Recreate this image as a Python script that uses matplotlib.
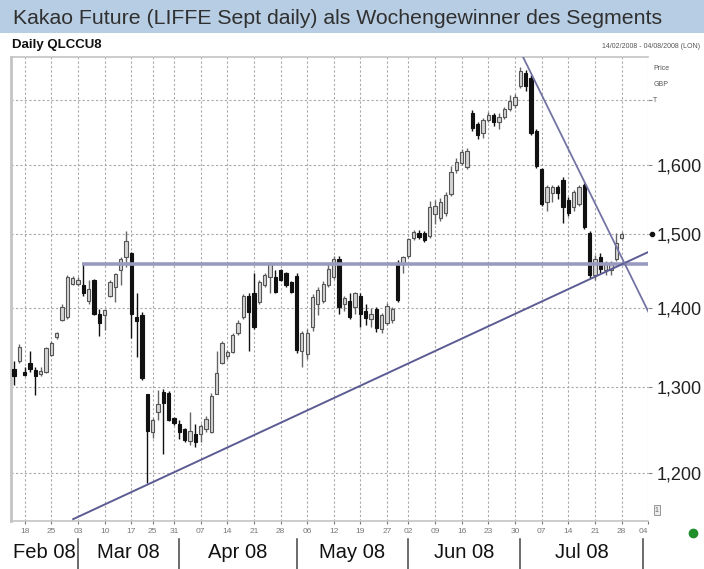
import matplotlib
matplotlib.use("Agg")
import matplotlib.pyplot as plt
import numpy as np
from matplotlib.patches import Rectangle
from matplotlib.ticker import NullLocator
from matplotlib.transforms import blended_transform_factory

# daily OHLC, trading day index 0 = 14 Feb 2008
opens = [1322, 1332, 1319, 1329, 1321, 1316, 1319, 1340, 1362, 1384,
         1388, 1432, 1432, 1430, 1409, 1437, 1392, 1390, 1416, 1427,
         1450, 1468, 1473, 1388, 1390, 1291, 1247, 1270, 1294, 1293,
         1263, 1256, 1250, 1236, 1244, 1244, 1250, 1246, 1292, 1330,
         1338, 1343, 1367, 1388, 1415, 1419, 1407, 1430, 1441, 1441,
         1450, 1446, 1434, 1442, 1345, 1341, 1375, 1405, 1409, 1430,
         1441, 1466, 1405, 1409, 1401, 1416, 1396, 1385, 1398, 1372,
         1380, 1384, 1460, 1459, 1470, 1494, 1502, 1501, 1497, 1528,
         1522, 1530, 1557, 1592, 1603, 1597, 1680, 1662, 1648, 1669,
         1676, 1666, 1673, 1686, 1692, 1722, 1744, 1735, 1652, 1594,
         1545, 1558, 1567, 1578, 1548, 1538, 1542, 1571, 1502, 1443,
         1468, 1450, 1450, 1466, 1495]
highs = [1332, 1353, 1325, 1344, 1325, 1325, 1350, 1357, 1369, 1405,
         1443, 1442, 1441, 1459, 1437, 1438, 1398, 1398, 1437, 1446,
         1468, 1504, 1475, 1420, 1395, 1291, 1263, 1296, 1298, 1295,
         1264, 1260, 1251, 1270, 1256, 1256, 1265, 1293, 1344, 1357,
         1346, 1367, 1384, 1418, 1420, 1446, 1437, 1446, 1461, 1450,
         1452, 1448, 1436, 1446, 1370, 1372, 1418, 1427, 1436, 1458,
         1470, 1470, 1416, 1419, 1421, 1419, 1405, 1400, 1401, 1393,
         1406, 1401, 1464, 1470, 1495, 1506, 1505, 1504, 1547, 1548,
         1552, 1560, 1598, 1610, 1624, 1625, 1685, 1666, 1672, 1681,
         1680, 1679, 1689, 1708, 1710, 1753, 1748, 1740, 1655, 1596,
         1570, 1570, 1571, 1582, 1553, 1563, 1571, 1574, 1504, 1471,
         1474, 1462, 1463, 1502, 1503]
lows = [1303, 1330, 1313, 1319, 1290, 1313, 1317, 1338, 1360, 1383,
        1386, 1430, 1429, 1416, 1405, 1390, 1363, 1371, 1414, 1407,
        1430, 1455, 1361, 1337, 1309, 1189, 1240, 1261, 1221, 1259,
        1255, 1238, 1235, 1231, 1229, 1235, 1246, 1245, 1291, 1328,
        1334, 1342, 1365, 1386, 1344, 1372, 1405, 1428, 1419, 1419,
        1435, 1428, 1419, 1342, 1325, 1335, 1370, 1390, 1406, 1427,
        1438, 1392, 1396, 1386, 1392, 1375, 1378, 1375, 1369, 1367,
        1378, 1380, 1407, 1446, 1467, 1491, 1493, 1489, 1494, 1514,
        1518, 1526, 1555, 1588, 1600, 1594, 1651, 1640, 1641, 1665,
        1660, 1655, 1670, 1683, 1688, 1719, 1715, 1645, 1596, 1540,
        1533, 1545, 1550, 1516, 1525, 1533, 1540, 1507, 1440, 1437,
        1446, 1444, 1444, 1462, 1493]
closes = [1314, 1350, 1315, 1322, 1313, 1320, 1348, 1355, 1367, 1401,
          1441, 1439, 1437, 1419, 1425, 1392, 1380, 1397, 1434, 1445,
          1466, 1490, 1392, 1383, 1311, 1248, 1261, 1279, 1281, 1261,
          1257, 1246, 1237, 1248, 1235, 1254, 1262, 1289, 1317, 1355,
          1343, 1365, 1380, 1415, 1395, 1375, 1434, 1443, 1459, 1421,
          1437, 1430, 1421, 1346, 1368, 1368, 1414, 1423, 1432, 1452,
          1465, 1401, 1413, 1388, 1419, 1392, 1387, 1392, 1374, 1390,
          1403, 1398, 1410, 1468, 1493, 1503, 1496, 1492, 1538, 1540,
          1545, 1556, 1590, 1605, 1620, 1621, 1656, 1645, 1668, 1677,
          1666, 1674, 1686, 1699, 1705, 1747, 1722, 1648, 1598, 1542,
          1567, 1567, 1558, 1538, 1530, 1560, 1567, 1510, 1443, 1466,
          1452, 1458, 1460, 1488, 1500]

week_idx = [2, 7, 12, 17, 22, 26, 30, 35, 40, 45, 50, 55, 60, 65, 70,
            74, 79, 84, 89, 94, 99, 104, 109, 114, 119]
week_labels = ["18", "25", "03", "10", "17", "25", "31", "07", "14", "21",
               "28", "06", "12", "19", "27", "02", "09", "16", "23", "30",
               "07", "14", "21", "28", "04"]
month_bounds = [-0.5, 12, 31, 53, 74, 95, 118]
month_labels = ["Feb 08", "Mar 08", "Apr 08", "May 08", "Jun 08", "Jul 08"]
price_ticks = [1200, 1300, 1400, 1500, 1600, 1700]
price_labels = ["1,200", "1,300", "1,400", "1,500", "1,600", ""]

# drawn lines
resistance_x = [12.8, 119]
resistance_y = [1459, 1459]
trend_up_x = [11.1, 119]
trend_up_y = [1149, 1475]
trend_down_x = [95.5, 119]
trend_down_y = [1770, 1395]
last_price = 1500

SANS = ["Liberation Sans", "DejaVu Sans"]

fig = plt.figure(figsize=(7.04, 5.69), dpi=100)
fig.patch.set_facecolor("white")

# title band
fig.patches.append(Rectangle((0, 1 - 33 / 569), 1, 33 / 569, transform=fig.transFigure,
                             facecolor="#b7cde3", edgecolor="none", zorder=0))
fig.text(0.018, 1 - 18 / 569, "Kakao Future (LIFFE Sept daily) als Wochengewinner des Segments",
         fontsize=15.3, color="#303030", family=SANS, va="center", ha="left")
fig.text(0.017, 1 - 45 / 569, "Daily QLCCU8", fontsize=9.5, fontweight="bold",
         family=SANS, va="center", ha="left", color="#111111")
fig.text(0.995, 1 - 47 / 569, "14/02/2008 - 04/08/2008 (LON)", fontsize=5,
         family=SANS, va="center", ha="right", color="#555555")

ax = fig.add_axes([0.0161, 0.0844, 0.9048, 0.8154])
ax.set_yscale("log")

idx = np.arange(len(opens))
o = np.array(opens)
h = np.array(highs)
l = np.array(lows)
c = np.array(closes)
up = c >= o

ax.vlines(idx, l, h, colors=np.where(up, "#666666", "#111111"), linewidth=1.0, zorder=2)
ax.bar(idx, np.maximum(np.abs(c - o), 1.5), bottom=np.minimum(o, c), width=0.62,
       color=np.where(up, "#d4d4d4", "#111111"), edgecolor=np.where(up, "#555555", "#111111"),
       linewidth=0.8, zorder=3)

ax.plot(resistance_x, resistance_y, color="#9a9ac0", linewidth=2.6, zorder=4, solid_capstyle="butt")
ax.plot(trend_up_x, trend_up_y, color="#5c5c94", linewidth=1.4, zorder=4)
ax.plot(trend_down_x, trend_down_y, color="#7474a4", linewidth=1.3, zorder=4)

ax.set_xlim(-0.5, 119)
ax.set_ylim(1147, 1770)

ax.set_xticks(week_idx, week_labels)
ax.xaxis.set_minor_locator(NullLocator())
ax.set_yticks(price_ticks, price_labels)
ax.yaxis.set_minor_locator(NullLocator())
ax.yaxis.tick_right()
ax.grid(True, which="major", linestyle=(0, (2, 2)), color="#a8a8a8", linewidth=0.8)
ax.set_axisbelow(True)

ax.tick_params(axis="x", labelsize=6, colors="#777777", length=2, pad=3)
ax.tick_params(axis="y", labelsize=13, labelcolor="#222222", color="#888888",
               length=3, pad=3)
for lab in ax.get_yticklabels() + ax.get_xticklabels():
    lab.set_family(SANS)
ax.get_xticklabels()[-1].set_horizontalalignment("right")

for side in ["left", "top", "bottom"]:
    ax.spines[side].set_color("#c4c4c4")
ax.spines["left"].set_linewidth(2)
ax.spines["top"].set_linewidth(1.2)
ax.spines["bottom"].set_linewidth(1.2)
ax.spines["right"].set_visible(False)

# last price marker on the price scale
yblend = blended_transform_factory(ax.transAxes, ax.transData)
ax.plot([1.006], [last_price], marker="o", markersize=3, color="#111111",
        transform=yblend, clip_on=False)

# unit labels
for txt, ypx in [("Price", 68), ("GBP", 84), ("T", 100)]:
    fig.text(0.928, 1 - ypx / 569, txt, fontsize=5, family=SANS,
             color="#555555", va="center", ha="left")

# month row
xblend = blended_transform_factory(ax.transData, fig.transFigure)
for b in month_bounds[1:]:
    ax.plot([b, b], [0, 30 / 569], color="#444444", linewidth=1.1,
            transform=xblend, clip_on=False)
for lab, a, b in zip(month_labels, month_bounds[:-1], month_bounds[1:]):
    ax.text((a + b) / 2, 1 - 553 / 569, lab, transform=xblend, fontsize=14.5,
            family=SANS, ha="center", va="center", color="#111111")

# small icon and status dot
fig.text(0.933, 1 - 510 / 569, "1", fontsize=5, family=SANS, color="#666666",
         ha="center", va="center",
         bbox=dict(boxstyle="square,pad=0.2", facecolor="#eeeeee", edgecolor="#888888", linewidth=0.6))
fig.add_artist(plt.Line2D([693 / 704], [1 - 533 / 569], marker="o", markersize=6,
                          color="#1f8f2a", transform=fig.transFigure))

fig.savefig("out.png", dpi=100)
